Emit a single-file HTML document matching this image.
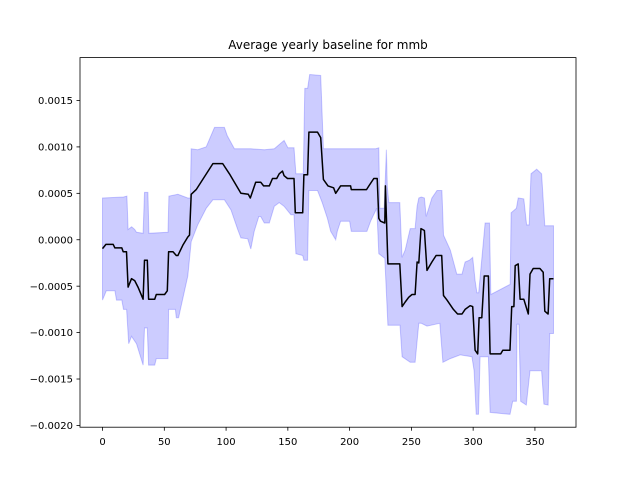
<!DOCTYPE html>
<html><head><meta charset="utf-8"><style>
body{margin:0;background:#fff}
svg text{font-family:"DejaVu Sans","Liberation Sans",sans-serif;font-size:10px;fill:#000}
</style></head><body>
<svg id="chart" width="640" height="480" xmlns="http://www.w3.org/2000/svg">
<rect width="640" height="480" fill="#fff"/>
<text x="328" y="49" text-anchor="middle" style="font-size:12px">Average yearly baseline for mmb</text>
<g id="band"></g>
<g id="line"></g>
<rect x="80" y="57.6" width="496" height="369.6" fill="none" stroke="#000" stroke-width="0.8"/>
<g id="xaxis"></g>
<g id="yaxis"></g>
</svg>
<script>
const meanDays=[0,2.7,8.6,10,15.6,16.7,19.4,20.7,23.4,26,28.7,32.8,34,36.2,37.3,42.2,43.5,50.2,52.4,53.5,57,59.7,61,65,69,70.4,71.8,75.8,89.3,97.3,102.7,112,118,119.6,124,128,130.4,135,137.6,141,143,145.7,147,149.7,155,156,162,163,166,167,174,176.6,178.8,182.5,187,188.7,192.7,200.8,201.4,213.7,215.6,219.6,222.3,223.6,225,228.5,229,231,240.6,242.5,245,247.8,250.5,253,254.6,256,257.8,260.5,262.6,266.6,270,274.5,276,278.8,284,287.4,291,293.5,297.5,299.6,301.6,303.7,304.8,307,308.9,312.3,313.7,322.3,324,329.8,331.2,333,334,336.5,338,341,344.6,346,348.6,354,356.7,358,360.7,362,365];
const meanVals=[-0.000095,-0.00005,-0.00005,-0.000088,-0.000088,-0.00013,-0.00013,-0.00051,-0.00042,-0.00044,-0.00051,-0.00064,-0.00022,-0.00022,-0.00064,-0.00064,-0.00059,-0.00059,-0.00055,-0.00013,-0.00013,-0.00017,-0.00017,-0.00006,0.00003,0.00005,0.00049,0.00054,0.00082,0.00082,0.00071,0.0005,0.00049,0.00045,0.00062,0.00062,0.00058,0.00058,0.00066,0.00066,0.00071,0.00074,0.00069,0.00066,0.00066,0.00029,0.00029,0.0007,0.0007,0.00116,0.00116,0.0011,0.00065,0.00058,0.00056,0.0005,0.00058,0.00058,0.00054,0.00054,0.00058,0.00066,0.00066,0.00023,0.0002,0.00018,0.00058,-0.00026,-0.00026,-0.00072,-0.00067,-0.00062,-0.00059,-0.00059,-0.00024,-0.00025,0.00012,0.0001,-0.00033,-0.00024,-0.00017,-0.00017,-0.0006,-0.00065,-0.00075,-0.0008,-0.0008,-0.00075,-0.00071,-0.00072,-0.00119,-0.00123,-0.00084,-0.00084,-0.00039,-0.00039,-0.00123,-0.00123,-0.00119,-0.00119,-0.00072,-0.00072,-0.00028,-0.00026,-0.00064,-0.00064,-0.0008,-0.00037,-0.00031,-0.00031,-0.00035,-0.00077,-0.0008,-0.00042,-0.00042];
const upDays=[0,17,19.7,20.7,23.5,26,27.5,32.8,34,36.7,37.5,53,53.7,61,69,71,71.8,77,83.9,90.6,98.6,101,106.7,120,131,139,147,150,155,156.5,162.5,163.7,166,167.7,176.6,178.8,221,223.6,224.4,228,229.8,230.5,231.7,240.6,242.4,245,249,250.5,253,254.6,256,258,260.5,262,266.6,270.7,274.7,276,281.5,286.8,291,293.5,297,299.6,301.6,303,304.5,309.7,313.2,314.3,330,330.7,335,336.5,341,343.3,345.4,346.8,351.4,355.4,358,365];
const upVals=[0.00045,0.00046,0.00047,0.00011,0.00014,0.00011,0.00008,0.00007,0.00051,0.00051,0.00007,0.00008,0.00047,0.00049,0.00045,0.00045,0.00098,0.00097,0.001,0.00121,0.00121,0.00112,0.00098,0.00098,0.00097,0.00098,0.00107,0.00099,0.00099,0.00071,0.00071,0.00163,0.00163,0.00178,0.00177,0.00098,0.00098,0.00099,0.00034,0.00034,0.00097,0.00057,0.0004,0.0004,-0.00019,-0.00011,0.00012,0.00012,0.00012,0.00036,0.00045,0.00046,0.00045,0.00025,0.00045,0.00053,0.00053,0.00005,-0.00011,-0.00037,-0.00037,-0.00024,-0.00022,-0.00019,-0.00044,-0.00057,-0.00057,0.00018,0.00018,-0.00059,-0.00048,0.00029,0.00034,0.00045,0.00044,0.00016,0.00016,0.00071,0.00076,0.00071,0.00015,0.00015];
const loDays=[0,3,10,11.3,15.6,17,19.5,21.2,23.4,27.5,32.8,34,36.2,37.3,42.2,43.5,53,53.5,59,59.7,61.6,63,69,71.8,77,84,89.3,98.6,104,109.4,112,117.5,120,122.8,126.5,128,130.9,135,139,143,147,152.5,155,156.5,162,163,166,167,174,177.8,182,184.7,188.7,190,192.7,200,201.4,214,217,222,223.6,228.5,231,240.8,242.5,249,253,256,258,262.6,273,275.5,281.5,289.5,299,300.8,302.5,304.3,305.6,312.3,313.7,329.8,332,335,335.5,337,338.5,343,346,355.4,357.3,360.7,362,365];
const loVals=[-0.00065,-0.00055,-0.00055,-0.00065,-0.00065,-0.00075,-0.00075,-0.00112,-0.00104,-0.00112,-0.00135,-0.00095,-0.00095,-0.00135,-0.00135,-0.00128,-0.00128,-0.00075,-0.00075,-0.00084,-0.00084,-0.00075,-0.00039,-0.00002,0.00016,0.00034,0.00043,0.00043,0.00032,0.00011,0.00002,0.00001,-0.0001,0.00009,0.00025,0.00025,0.00018,0.00018,0.00036,0.00040,0.00036,0.00027,0.00027,-0.00015,-0.00017,-0.00022,-0.00022,0.00053,0.00053,0.0004,0.00023,0.00009,0,0.00009,0.0002,0.0002,0.00009,0.00009,0.0002,0.00034,-0.00015,-0.0002,-0.00092,-0.00092,-0.00126,-0.00132,-0.00132,-0.0009,-0.0009,-0.00093,-0.0009,-0.00132,-0.00128,-0.00124,-0.00126,-0.00141,-0.00188,-0.00188,-0.00126,-0.00126,-0.00186,-0.00188,-0.00174,-0.00174,-0.00091,-0.00091,-0.00174,-0.00178,-0.00141,-0.00141,-0.00177,-0.00178,-0.00101,-0.00101];
const xTicks=[0,50,100,150,200,250,300,350];
const yTicks=[0.0015,0.001,0.0005,0,-0.0005,-0.001,-0.0015,-0.002];
const yTickLabels=["0.0015","0.0010","0.0005","0.0000","−0.0005","−0.0010","−0.0015","−0.0020"];

const NS="http://www.w3.org/2000/svg";
const xMin=-18.25,xMax=383.25,yMin=-0.002019,yMax=0.001962;
function sx(d){return 80+(d-xMin)/(xMax-xMin)*496;}
function sy(v){return 427.2-(v-yMin)/(yMax-yMin)*369.6;}

const band=document.getElementById('band');
let pts=[];
for(let i=0;i<upDays.length;i++)pts.push(sx(upDays[i]).toFixed(1)+','+sy(upVals[i]).toFixed(1));
for(let i=loDays.length-1;i>=0;i--)pts.push(sx(loDays[i]).toFixed(1)+','+sy(loVals[i]).toFixed(1));
const poly=document.createElementNS(NS,'polygon');


poly.setAttribute('points',pts.join(' '));
poly.setAttribute('fill','rgba(0,0,255,0.2)');
poly.setAttribute('stroke','rgba(0,0,255,0.2)');
poly.setAttribute('stroke-width','1');
band.appendChild(poly);

const lineG=document.getElementById('line');
const pl=document.createElementNS(NS,'polyline');


pl.setAttribute('points',meanDays.map((d,i)=>sx(d).toFixed(1)+','+sy(meanVals[i]).toFixed(1)).join(' '));
pl.setAttribute('fill','none');
pl.setAttribute('stroke','#000');
pl.setAttribute('stroke-width','1.5');
pl.setAttribute('stroke-linejoin','round');
lineG.appendChild(pl);

const xa=document.getElementById('xaxis');
xTicks.forEach(t=>{
  const x=sx(t);
  const l=document.createElementNS(NS,'line');
  
  
  l.setAttribute('x1',x);l.setAttribute('x2',x);l.setAttribute('y1',427.2);l.setAttribute('y2',430.7);
  l.setAttribute('stroke','#000');l.setAttribute('stroke-width','0.8');
  xa.appendChild(l);
  const tx=document.createElementNS(NS,'text');
  
  
  tx.setAttribute('x',x);tx.setAttribute('y',445);tx.setAttribute('text-anchor','middle');
  tx.textContent=t;
  xa.appendChild(tx);
});
const ya=document.getElementById('yaxis');
yTicks.forEach((t,i)=>{
  const y=sy(t);
  const l=document.createElementNS(NS,'line');
  
  
  l.setAttribute('x1',76.5);l.setAttribute('x2',80);l.setAttribute('y1',y);l.setAttribute('y2',y);
  l.setAttribute('stroke','#000');l.setAttribute('stroke-width','0.8');
  ya.appendChild(l);
  const tx=document.createElementNS(NS,'text');
  
  
  tx.setAttribute('x',73);tx.setAttribute('y',y+3.6);tx.setAttribute('text-anchor','end');
  tx.textContent=yTickLabels[i];
  ya.appendChild(tx);
});
</script>
</body></html>
